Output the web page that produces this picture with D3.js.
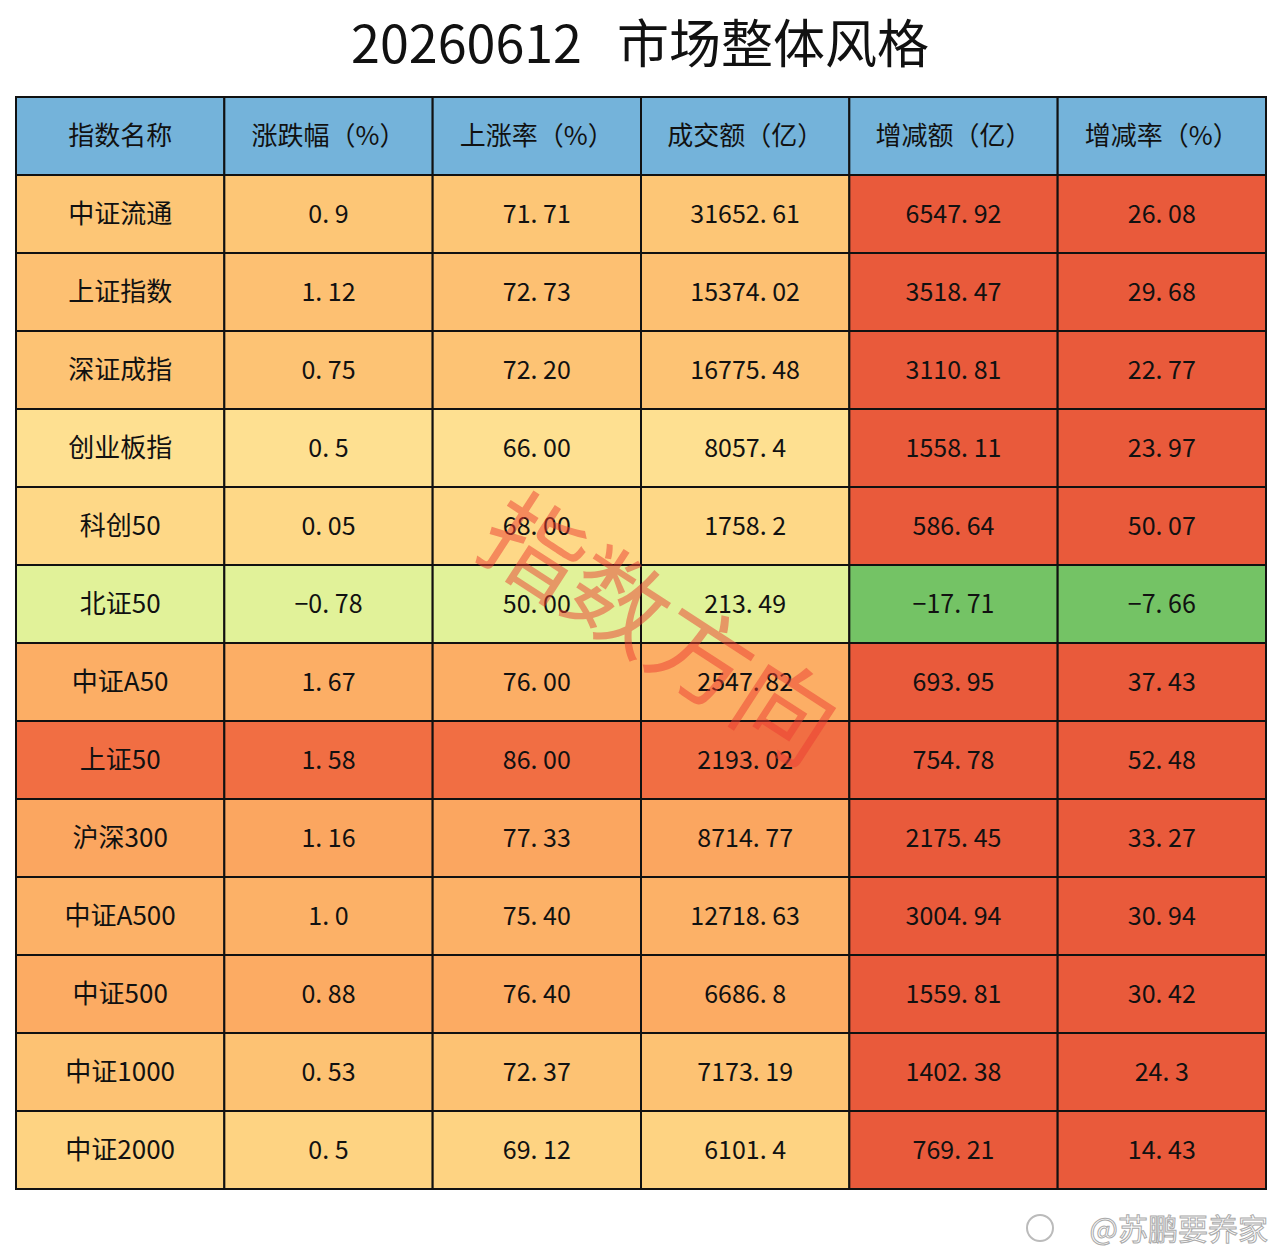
<!DOCTYPE html>
<html><head><meta charset="utf-8">
<script src="https://cdn.jsdelivr.net/npm/d3@7"></script>
<style>body{margin:0;background:#fff}text{font-family:"Noto Sans CJK SC","Noto Sans",sans-serif}</style>
</head><body>
<svg id="chart" width="1280" height="1260"></svg>
<script>
var title = "20260612  市场整体风格";
var headers = ["指数名称", "涨跌幅（%）", "上涨率（%）", "成交额（亿）", "增减额（亿）", "增减率（%）"];
var names = ["中证流通","上证指数","深证成指","创业板指","科创50","北证50","中证A50","上证50","沪深300","中证A500","中证500","中证1000","中证2000"];
var change = ["0.9","1.12","0.75","0.5","0.05","-0.78","1.67","1.58","1.16","1.0","0.88","0.53","0.5"];
var upRate = ["71.71","72.73","72.20","66.00","68.00","50.00","76.00","86.00","77.33","75.40","76.40","72.37","69.12"];
var turnover = ["31652.61","15374.02","16775.48","8057.4","1758.2","213.49","2547.82","2193.02","8714.77","12718.63","6686.8","7173.19","6101.4"];
var delta = ["6547.92","3518.47","3110.81","1558.11","586.64","-17.71","693.95","754.78","2175.45","3004.94","1559.81","1402.38","769.21"];
var deltaRate = ["26.08","29.68","22.77","23.97","50.07","-7.66","37.43","52.48","33.27","30.94","30.42","24.3","14.43"];

var svg = d3.select("#chart");
var tblLeft = 16, tblRight = 1266, tblTop = 97, rowH = 78;
var x = d3.scaleBand().domain(d3.range(6)).range([tblLeft, tblRight]);
var y = d3.scaleBand().domain(d3.range(names.length + 1)).range([tblTop, tblTop + rowH * (names.length + 1)]);
var t = d3.scaleLinear().domain([50, 86]).range([0.575, 0.2]);
function rowColor(i){ return d3.interpolateRdYlGn(t(+upRate[i])); }
function fmt(s){ return s.replace("-", "−").replace(".", ". "); }

svg.append("text").attr("x", 640).attr("y", 63).attr("text-anchor", "middle")
	.style("white-space", "pre").attr("font-size", 52).attr("fill", "#111").text(title.replace("  ", "   "));

var rows = names.map(function(n, i){ return [n, change[i], upRate[i], turnover[i], delta[i], deltaRate[i]]; });

headers.forEach(function(h, j){
	svg.append("rect").attr("x", x(j)).attr("y", y(0)).attr("width", x.bandwidth()).attr("height", y.bandwidth())
		.attr("fill", "#74B3DA").attr("stroke", "#111").attr("stroke-width", 2);
	svg.append("text").attr("x", x(j) + x.bandwidth()/2).attr("y", y(0) + y.bandwidth()/2 + 9)
		.attr("text-anchor", "middle").attr("font-size", 26).attr("fill", "#111").text(h);
});

rows.forEach(function(r, i){
	r.forEach(function(v, j){
		var fill = j < 4 ? rowColor(i) : (+v < 0 ? "#74C365" : "#E95A3B");
		svg.append("rect").attr("x", x(j)).attr("y", y(i+1)).attr("width", x.bandwidth()).attr("height", y.bandwidth())
			.attr("fill", fill).attr("stroke", "#111").attr("stroke-width", 2);
		svg.append("text").attr("x", x(j) + x.bandwidth()/2).attr("y", y(i+1) + y.bandwidth()/2 + 9)
			.attr("text-anchor", "middle").attr("font-size", j == 0 ? 26 : 25).attr("fill", "#111")
			.style("white-space", "pre").text(j == 0 ? v : fmt(v));
	});
});

svg.append("text").attr("transform", "translate(640,660) rotate(33)").attr("text-anchor", "middle")
	.attr("font-size", 100).attr("fill", "rgba(235,60,50,0.5)").text("指数方向");

svg.append("circle").attr("cx", 1040).attr("cy", 1228).attr("r", 13).attr("fill", "none").attr("stroke", "#bbb").attr("stroke-width", 2);
svg.append("text").attr("x", 1268).attr("y", 1240).attr("text-anchor", "end")
	.attr("font-size", 30).attr("fill", "#fff").attr("stroke", "#aaa").attr("stroke-width", 1).text("@苏鹏要养家");
</script>
</body></html>
